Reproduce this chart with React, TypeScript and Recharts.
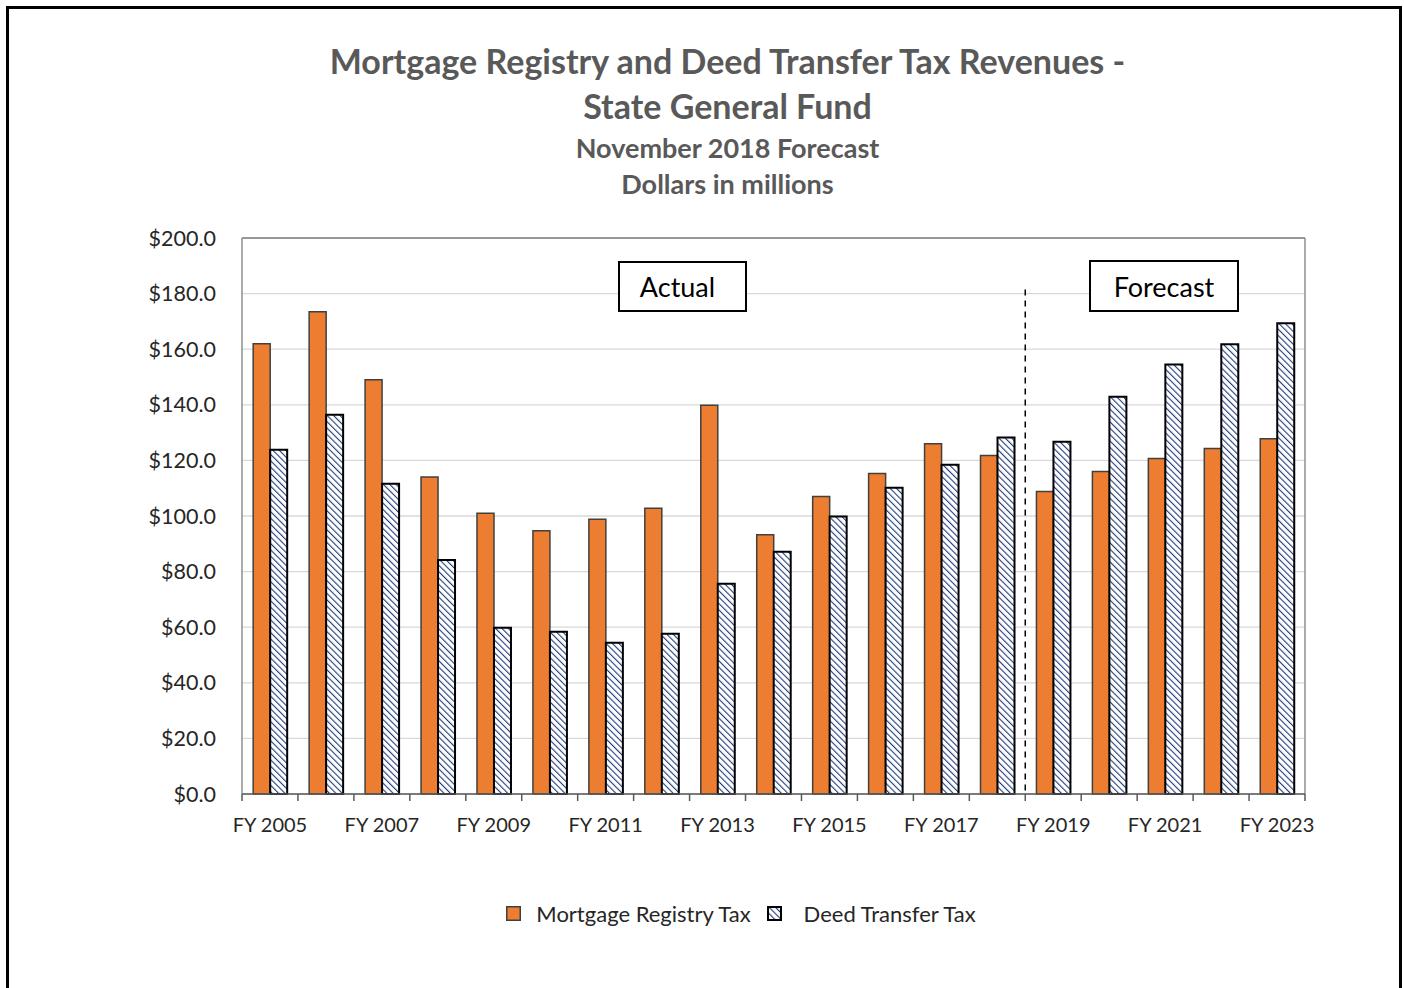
import React from 'react';
import { BarChart, Bar, XAxis, YAxis, CartesianGrid, ReferenceLine } from 'recharts';

const years = [
  'FY 2005', 'FY 2006', 'FY 2007', 'FY 2008', 'FY 2009', 'FY 2010', 'FY 2011',
  'FY 2012', 'FY 2013', 'FY 2014', 'FY 2015', 'FY 2016', 'FY 2017', 'FY 2018',
  'FY 2019', 'FY 2020', 'FY 2021', 'FY 2022', 'FY 2023',
];
const mortgageTax = [
  162, 173.5, 149, 114, 101, 94.7, 98.8, 102.8, 139.8, 93.3,
  107, 115.3, 126, 121.8, 108.8, 116, 120.7, 124.3, 127.8,
];
const deedTax = [
  123.8, 136.4, 111.6, 84.2, 59.8, 58.4, 54.4, 57.6, 75.6, 87.1,
  99.8, 110.2, 118.4, 128.2, 126.7, 142.9, 154.5, 161.8, 169.3,
];
const yTicks = [0, 20, 40, 60, 80, 100, 120, 140, 160, 180, 200];
const firstForecastYear = 'FY 2019';

const data = years.map((fy, i) => ({ fy, mortgage: mortgageTax[i], deed: deedTax[i] }));

const FONT = 'Lato, "Open Sans", sans-serif';
const PLOT_LEFT = 242;
const PLOT_RIGHT = 1305;
const PLOT_TOP = 238;
const PLOT_BOTTOM = 794;
const BAND = (PLOT_RIGHT - PLOT_LEFT) / years.length;

const XTick = (props: any) => {
  const { x, y, index, payload } = props;
  return (
    <g>
      <line x1={x - BAND / 2} x2={x - BAND / 2} y1={y} y2={y + 7} stroke="#595959" strokeWidth={1.5} />
      {index === years.length - 1 && (
        <line x1={x + BAND / 2} x2={x + BAND / 2} y1={y} y2={y + 7} stroke="#595959" strokeWidth={1.5} />
      )}
      {index % 2 === 0 && (
        <text x={x} y={y + 38} textAnchor="middle" fontSize={20} fill="#262626" fontFamily={FONT}>
          {payload.value}
        </text>
      )}
    </g>
  );
};

const boxStyle: React.CSSProperties = {
  position: 'absolute',
  border: '2px solid #000',
  background: '#fff',
  boxSizing: 'border-box',
  display: 'flex',
  alignItems: 'center',
  justifyContent: 'center',
  fontSize: 27,
  fontFamily: FONT,
  color: '#000',
};

const Hatch = ({ id }: { id: string }) => (
  <pattern id={id} patternUnits="userSpaceOnUse" width={4.5} height={4.5} patternTransform="rotate(-45)">
    <rect width={4.5} height={4.5} fill="#fff" />
    <line x1={0} y1={0} x2={0} y2={4.5} stroke="#1f3a7a" strokeWidth={2.2} />
  </pattern>
);

export default function App() {
  return (
    <div style={{ position: 'absolute', left: 0, top: 0, width: 1404, height: 988, overflow: 'hidden', background: '#fff' }}>
      <div style={{ position: 'absolute', left: 6, top: 6, width: 1396, height: 1100, border: '3px solid #000', boxSizing: 'border-box' }} />

      <div style={{ position: 'absolute', left: 0, width: 1455, top: 38, textAlign: 'center', fontFamily: FONT, color: '#595959', fontWeight: 700 }}>
        <div style={{ fontSize: 34, lineHeight: '45px' }}>Mortgage Registry and Deed Transfer Tax Revenues -</div>
        <div style={{ fontSize: 34, lineHeight: '45px' }}>State General Fund</div>
        <div style={{ fontSize: 27, lineHeight: '36px', marginTop: 2 }}>November 2018 Forecast</div>
        <div style={{ fontSize: 27, lineHeight: '36px' }}>Dollars in millions</div>
      </div>

      <div style={{ position: 'absolute', left: 0, top: 0 }}>
        <BarChart
          width={1404}
          height={988}
          data={data}
          margin={{ top: PLOT_TOP, right: 1404 - PLOT_RIGHT, left: 142, bottom: 988 - PLOT_BOTTOM - 60 }}
          barCategoryGap="20%"
          barGap={0}
        >
          <defs>
            <Hatch id="hatch" />
          </defs>
          <CartesianGrid vertical={false} stroke="#d9d9d9" strokeWidth={1.3} />
          <XAxis
            dataKey="fy"
            interval={0}
            tickLine={false}
            tickSize={0}
            tickMargin={0}
            height={60}
            tick={<XTick />}
            axisLine={{ stroke: '#595959', strokeWidth: 1.5 }}
          />
          <YAxis
            domain={[0, 200]}
            ticks={yTicks}
            width={100}
            tickLine={false}
            tickSize={0}
            tickMargin={26}
            interval={0}
            tickFormatter={(v: number) => `$${v.toFixed(1)}`}
            tick={{ fontSize: 21.5, fill: '#262626', fontFamily: FONT }}
            axisLine={{ stroke: '#7f7f7f', strokeWidth: 1.3 }}
          />
          <ReferenceLine y={200} stroke="#7f7f7f" strokeWidth={1.3} />
          <ReferenceLine x={years[years.length - 1]} position="end" stroke="#7f7f7f" strokeWidth={1.3} />
          <ReferenceLine
            segment={[{ x: firstForecastYear, y: 181.5 }, { x: firstForecastYear, y: 0 }]}
            position="start"
            stroke="#000"
            strokeWidth={1.5}
            strokeDasharray="6 5"
          />
          <Bar dataKey="mortgage" fill="#ed7d31" stroke="#404040" strokeWidth={1.5} isAnimationActive={false} />
          <Bar dataKey="deed" fill="url(#hatch)" stroke="#000" strokeWidth={2} isAnimationActive={false} />
        </BarChart>
      </div>

      <div style={{ ...boxStyle, left: 618, top: 261, width: 129, height: 51, paddingRight: 10 }}>Actual</div>
      <div style={{ ...boxStyle, left: 1089, top: 260, width: 150, height: 52 }}>Forecast</div>

      <div style={{ position: 'absolute', left: 0, width: 1482, top: 900, display: 'flex', justifyContent: 'center', alignItems: 'center', fontFamily: FONT, fontSize: 22, color: '#262626' }}>
        <svg width={15} height={15} style={{ marginRight: 15 }}>
          <rect x={0.75} y={0.75} width={13.5} height={13.5} fill="#ed7d31" stroke="#404040" strokeWidth={1.5} />
        </svg>
        <span style={{ marginRight: 16 }}>Mortgage Registry Tax</span>
        <svg width={15} height={15} style={{ marginRight: 22 }}>
          <defs>
            <Hatch id="hatchLegend" />
          </defs>
          <rect x={1} y={1} width={13} height={13} fill="url(#hatchLegend)" stroke="#000" strokeWidth={2} />
        </svg>
        <span>Deed Transfer Tax</span>
      </div>
    </div>
  );
}
